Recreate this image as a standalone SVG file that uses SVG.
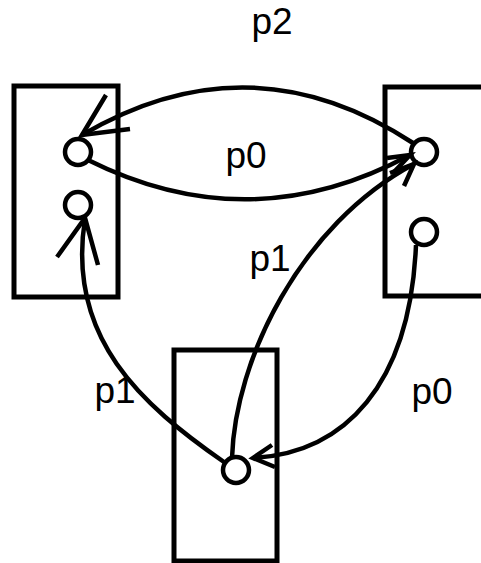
<svg xmlns="http://www.w3.org/2000/svg" width="481" height="563" viewBox="0 0 481 563">
<style>
.box{fill:#fff;stroke:#000;stroke-width:5}
.port{fill:#fff;stroke:#000;stroke-width:4.5}
.edge{fill:none;stroke:#000;stroke-width:4.5}
.lbl{font-family:"Liberation Sans",Arial,sans-serif;font-size:37px;fill:#000;text-anchor:middle}
</style>
<rect width="481" height="563" fill="#fff"/>
<g id="nodeA">
<rect class="box" x="14" y="86" width="104" height="211"/>
<circle class="port" cx="78" cy="152" r="13"/>
<circle class="port" cx="78" cy="205" r="13"/>
</g>
<g id="nodeB">
<rect class="box" x="385" y="87" width="104" height="209"/>
<circle class="port" cx="424" cy="152" r="13"/>
<circle class="port" cx="424" cy="232" r="13"/>
</g>
<g id="nodeC">
<rect class="box" x="174" y="350" width="103" height="211"/>
<circle class="port" cx="236" cy="470" r="13"/>
</g>
<g id="connectors">
<path class="edge" d="M413,143 Q250,36 82,135"/>
<polyline class="edge" points="106,95 82,135 130,129"/>
<path class="edge" d="M88,160 Q250,241 410,155"/>
<polyline class="edge" points="387,158 410,155 394,172"/>
<path class="edge" d="M232,458 C235,360 300,225 414,164"/>
<polyline class="edge" points="390,173 414,164 404,186"/>
<path class="edge" d="M224,462 C142,405 66,338 85,219"/>
<polyline class="edge" points="57,257 85,218 98,265"/>
<path class="edge" d="M416,245 C410,385 345,453 253,458"/>
<polyline class="edge" points="272,445 253,458 275,467"/>
</g>
<g id="labels">
<text class="lbl" x="272" y="34">p2</text>
<text class="lbl" x="246" y="168">p0</text>
<text class="lbl" x="270" y="271">p1</text>
<text class="lbl" x="115" y="403">p1</text>
<text class="lbl" x="432" y="404">p0</text>
</g>
</svg>
